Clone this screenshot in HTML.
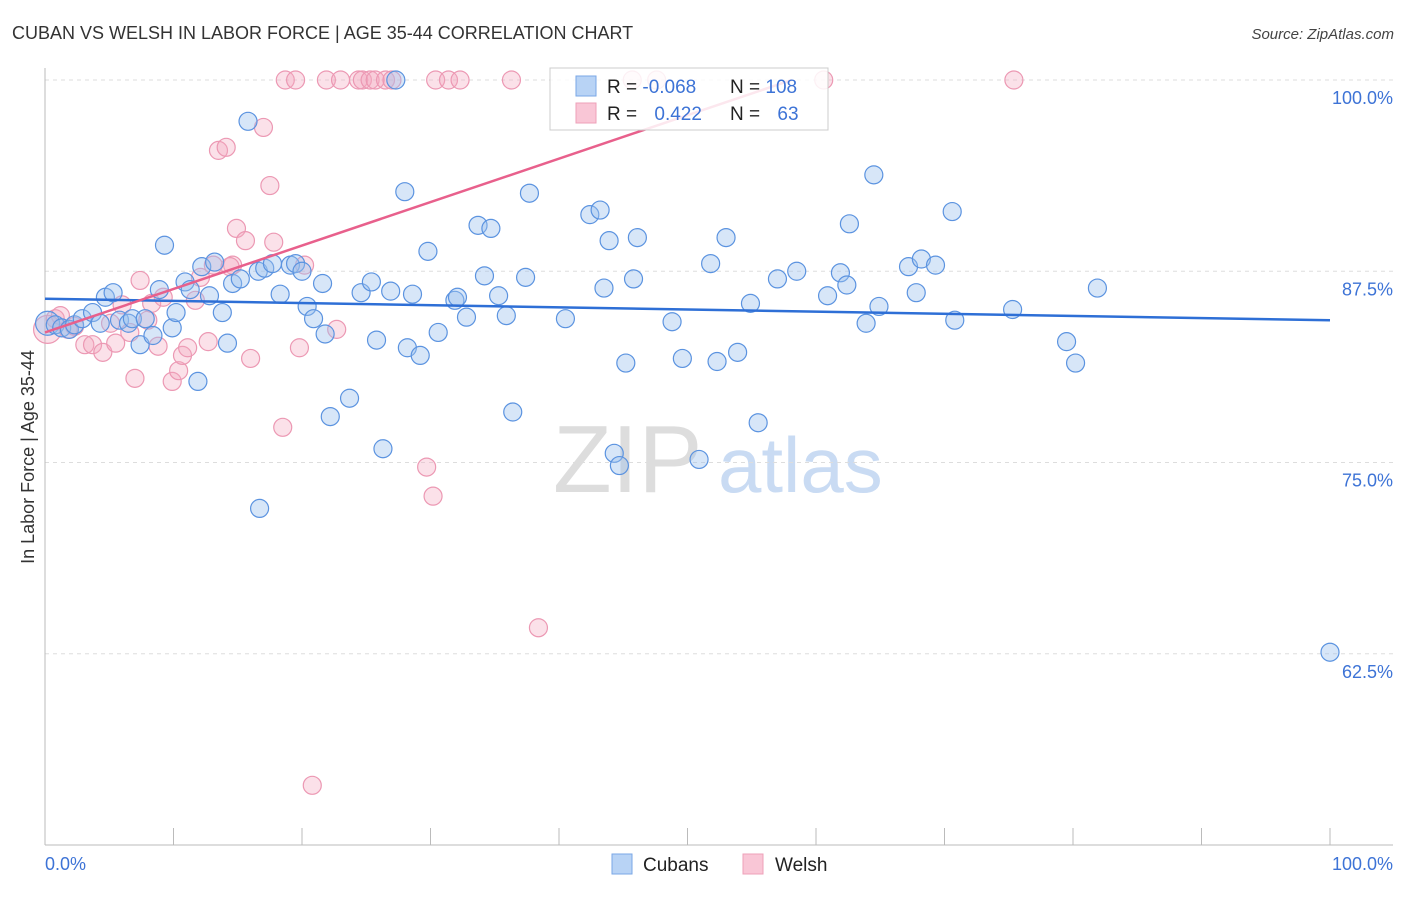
<!DOCTYPE html>
<html><head><meta charset="utf-8"><style>
body{margin:0;background:#fff;font-family:"Liberation Sans",sans-serif}
svg text{font-family:"Liberation Sans",sans-serif}
</style></head><body>
<svg id="chart" width="1406" height="892" xmlns="http://www.w3.org/2000/svg">
<text x="12" y="39" font-size="18" fill="#333">CUBAN VS WELSH IN LABOR FORCE | AGE 35-44 CORRELATION CHART</text>
<text x="1394" y="39" font-size="15" fill="#444" font-style="italic" text-anchor="end">Source: ZipAtlas.com</text>
<text x="553" y="492" font-size="96" font-family="Liberation Serif" fill="#ddd">ZIP</text>
<text x="718" y="492" font-size="78" fill="#c9dbf3">atlas</text>
<g id="grid"></g>
<g id="axes"></g>
<g id="marks"></g>
<g id="trends"></g>
<g>
<rect x="550" y="68" width="278" height="62" fill="#fff" fill-opacity="0.85" stroke="#ccc"/>
<rect x="576" y="76" width="20" height="20" fill="#b8d3f5" stroke="#7aa7e6"/>
<rect x="576" y="103" width="20" height="20" fill="#f9c6d6" stroke="#eea0b8"/>
<text x="607" y="93" font-size="19" fill="#222">R = <tspan fill="#3d73d6">-0.068</tspan></text>
<text x="730" y="93" font-size="19" fill="#222">N = <tspan fill="#3d73d6">108</tspan></text>
<text x="607" y="120" font-size="19" fill="#222">R = <tspan fill="#3d73d6" dx="12">0.422</tspan></text>
<text x="730" y="120" font-size="19" fill="#222">N = <tspan fill="#3d73d6" dx="12">63</tspan></text>
</g>
<text transform="translate(34,457) rotate(-90)" font-size="18" fill="#333" text-anchor="middle">In Labor Force | Age 35-44</text>
<g>
<rect x="612" y="854" width="20" height="20" fill="#b8d3f5" stroke="#7aa7e6"/>
<text x="643" y="871" font-size="19" fill="#222">Cubans</text>
<rect x="743" y="854" width="20" height="20" fill="#f9c6d6" stroke="#eea0b8"/>
<text x="775" y="871" font-size="19" fill="#222">Welsh</text>
</g>
</svg>
<script>
const cubanX=[0.2,0.8,1.3,1.9,2.3,2.9,3.7,4.3,4.7,5.3,5.8,6.5,6.8,7.4,7.8,8.4,8.9,9.3,9.9,10.2,10.9,11.3,11.9,12.2,12.8,13.2,13.8,14.2,14.6,15.2,15.8,16.6,16.7,17.1,17.7,18.3,19.1,19.5,20.0,20.4,20.9,21.6,21.8,22.2,23.7,24.6,25.4,25.8,26.3,26.9,27.3,28.0,28.2,28.6,29.2,29.8,30.6,31.9,32.1,32.8,33.7,34.2,34.7,35.3,35.9,36.4,37.4,37.7,40.5,42.4,43.2,43.5,43.9,44.3,44.7,45.2,45.8,46.1,48.8,49.6,50.9,51.8,52.3,53.0,53.9,54.9,55.5,57.0,58.5,60.9,61.9,62.4,62.6,63.9,64.5,64.9,67.2,67.8,68.2,69.3,70.6,70.8,75.3,79.5,80.2,81.9,100];
const cubanY=[84.1,84.0,83.8,83.7,84.0,84.4,84.8,84.1,85.8,86.1,84.3,84.1,84.4,82.7,84.4,83.3,86.3,89.2,83.8,84.8,86.8,86.3,80.3,87.8,85.9,88.1,84.8,82.8,86.7,87.0,97.3,87.5,72.0,87.7,88.0,86.0,87.9,88.0,87.5,85.2,84.4,86.7,83.4,78.0,79.2,86.1,86.8,83.0,75.9,86.2,100,92.7,82.5,86.0,82.0,88.8,83.5,85.6,85.8,84.5,90.5,87.2,90.3,85.9,84.6,78.3,87.1,92.6,84.4,91.2,91.5,86.4,89.5,75.6,74.8,81.5,87.0,89.7,84.2,81.8,75.2,88.0,81.6,89.7,82.2,85.4,77.6,87.0,87.5,85.9,87.4,86.6,90.6,84.1,93.8,85.2,87.8,86.1,88.3,87.9,91.4,84.3,85.0,82.9,81.5,86.4,62.6];
const welshX=[0.2,0.8,1.2,1.8,2.3,3.1,3.7,4.5,5.1,5.5,6.0,6.6,7.0,7.4,8.0,8.3,8.8,9.2,9.9,10.4,10.7,11.1,11.7,12.1,12.7,13.5,14.1,14.6,14.9,15.6,16.0,17.0,17.5,17.8,18.5,18.7,19.5,19.8,20.2,20.8,21.9,22.7,23.0,24.4,24.7,25.3,25.7,26.5,27.0,29.7,30.2,30.4,31.4,32.3,36.3,38.4,45.7,47.6,60.6,75.4,13.1,14.4];
const welshY=[83.7,84.4,84.6,83.7,83.9,82.7,82.7,82.2,84.1,82.8,85.3,83.5,80.5,86.9,84.3,85.4,82.6,85.8,80.3,81.0,82.0,82.5,85.6,87.1,82.9,95.4,95.6,87.9,90.3,89.5,81.8,96.9,93.1,89.4,77.3,100,100,82.5,87.9,53.9,100,83.7,100,100,100,100,100,100,100,74.7,72.8,100,100,100,100,64.2,100,100,100,100,87.9,87.8];
const trendCuban=[85.7,84.3];
const trendWelsh=[83.5,0.284];
const yTicks=[100,87.5,75,62.5];
const xTickLabels=["0.0%","100.0%"];
const NS="http://www.w3.org/2000/svg";
const X0=45,X1=1330,YTOP=80,PX_PER=15.3;
const sx=v=>X0+(X1-X0)*v/100;
const sy=v=>YTOP+(100-v)*PX_PER;
function mk(tag,attrs,parent){const e=document.createElementNS(NS,tag);for(const k in attrs)e.setAttribute(k,attrs[k]);parent.appendChild(e);return e;}
const grid=document.getElementById('grid'),axes=document.getElementById('axes'),marks=document.getElementById('marks'),trends=document.getElementById('trends');
yTicks.forEach(t=>{
  const l=mk('line',{x1:45,x2:1393,y1:sy(t),y2:sy(t),stroke:'#ddd','stroke-dasharray':'4,4'},grid);
  
  
  const tx=mk('text',{x:1393,y:sy(t)+24,'font-size':18,fill:'#3d73d6','text-anchor':'end'},axes);
  tx.textContent=t.toFixed(1)+'%';
  
  
});
mk('line',{x1:45,x2:45,y1:68,y2:845,stroke:'#bbb'},axes);
mk('line',{x1:45,x2:1393,y1:845,y2:845,stroke:'#bbb'},axes);
for(let i=1;i<=10;i++){const t=mk('line',{x1:sx(i*10),x2:sx(i*10),y1:828,y2:845,stroke:'#bbb'},axes);
  
  }
const xl0=mk('text',{x:45,y:870,'font-size':18,fill:'#3d73d6'},axes);xl0.textContent=xTickLabels[0];


const xl1=mk('text',{x:1393,y:870,'font-size':18,fill:'#3d73d6','text-anchor':'end'},axes);xl1.textContent=xTickLabels[1];


welshX.forEach((x,i)=>{const c=mk('circle',{cx:sx(x),cy:sy(welshY[i]),r:i==0?14:9,fill:'#f4a9c0','fill-opacity':0.35,stroke:'#ec98b3','stroke-width':1.2},marks);
  
  });
cubanX.forEach((x,i)=>{const c=mk('circle',{cx:sx(x),cy:sy(cubanY[i]),r:i==0?12:9,fill:'#9cc0ee','fill-opacity':0.4,stroke:'#5b93e0','stroke-width':1.2},marks);
  
  });
const tc=mk('line',{x1:sx(0),y1:sy(trendCuban[0]),x2:sx(100),y2:sy(trendCuban[1]),stroke:'#2e6fd6','stroke-width':2.5},trends);


const xEnd=(100-trendWelsh[0])/trendWelsh[1];
const tw=mk('line',{x1:sx(0),y1:sy(trendWelsh[0]),x2:sx(xEnd),y2:sy(100),stroke:'#e8608c','stroke-width':2.5},trends);


</script>
</body></html>
